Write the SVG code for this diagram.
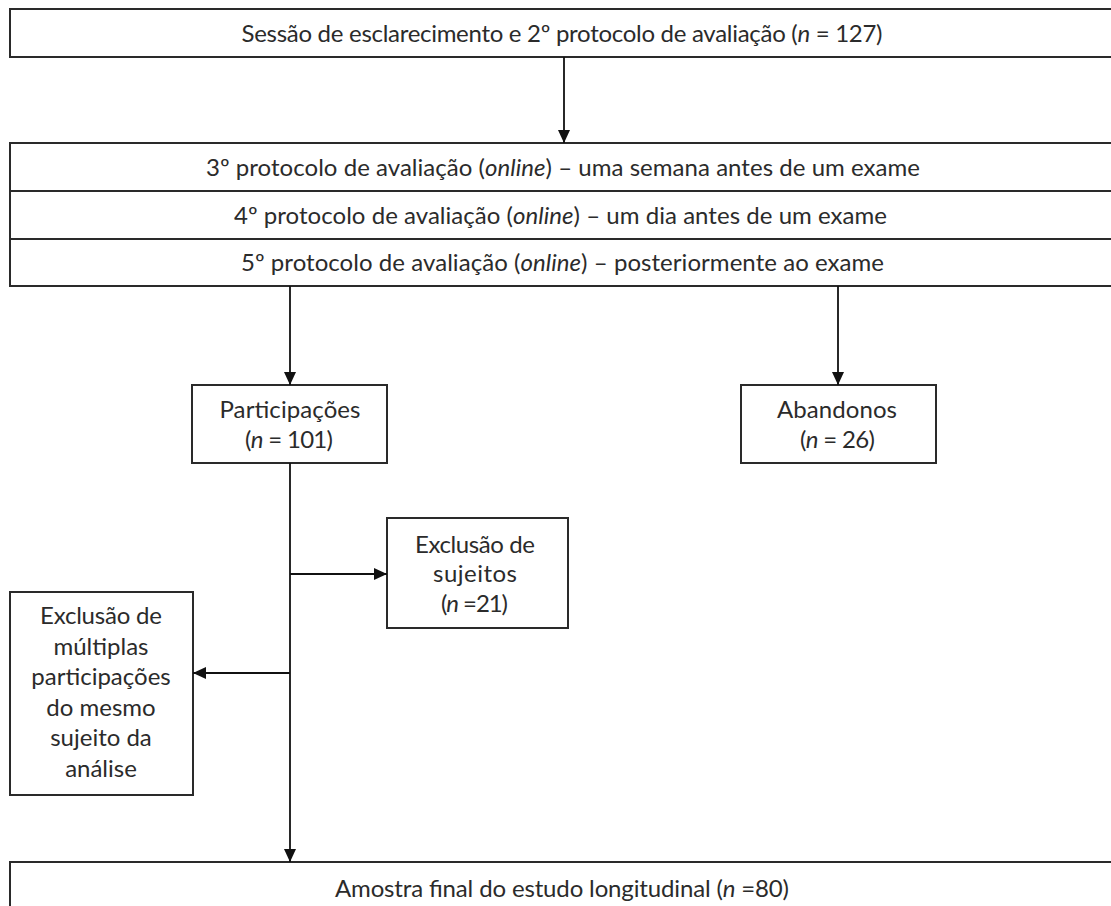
<svg xmlns="http://www.w3.org/2000/svg" width="1111" height="906" viewBox="0 0 1111 906">
  <defs>
    <marker id="arrow" viewBox="0 0 13 12" refX="13" refY="6" markerWidth="13" markerHeight="12" markerUnits="userSpaceOnUse" orient="auto">
      <path d="M0,0 L13,6 L0,12 Z" fill="#111"/>
    </marker>
    <style>
      .box { fill: #fff; stroke: #2a2a2a; stroke-width: 2; }
      .link { fill: none; stroke: #111; stroke-width: 1.8; marker-end: url(#arrow); }
      .line { fill: none; stroke: #2a2a2a; stroke-width: 2; }
      text { font-family: Lato, "Open Sans", "Liberation Sans", sans-serif; font-size: 24px; fill: #2b2b2b; text-anchor: middle; }
      .it { font-style: italic; }
    </style>
  </defs>
  <rect width="1111" height="906" fill="#fff"/>

  <!-- first session -->
  <g id="sessao">
    <rect class="box" x="10" y="9" width="1102" height="48"/>
    <text x="562" y="42" textLength="641">Sessão de esclarecimento e 2º protocolo de avaliação (<tspan class="it">n</tspan> = 127)</text>
  </g>

  <!-- online protocols, three stacked rows -->
  <g id="protocolos">
    <rect class="box" x="10" y="143" width="1102" height="143"/>
    <line class="line" x1="10" y1="191" x2="1112" y2="191"/>
    <line class="line" x1="10" y1="239" x2="1112" y2="239"/>
    <text x="563" y="176" textLength="714">3º protocolo de avaliação (<tspan class="it">online</tspan>) – uma semana antes de um exame</text>
    <text x="560.5" y="224" textLength="653">4º protocolo de avaliação (<tspan class="it">online</tspan>) – um dia antes de um exame</text>
    <text x="562.5" y="271" textLength="643">5º protocolo de avaliação (<tspan class="it">online</tspan>) – posteriormente ao exame</text>
  </g>

  <g id="participacoes">
    <rect class="box" x="192" y="385" width="195" height="78"/>
    <text x="290" y="418" textLength="141">Participações</text>
    <text x="289" y="448" textLength="88">(<tspan class="it">n</tspan> = 101)</text>
  </g>

  <g id="abandonos">
    <rect class="box" x="741" y="385" width="195" height="78"/>
    <text x="837" y="418" textLength="120">Abandonos</text>
    <text x="837.5" y="448" textLength="75">(<tspan class="it">n</tspan> = 26)</text>
  </g>

  <g id="exclusao-sujeitos">
    <rect class="box" x="387" y="518" width="181" height="110"/>
    <text x="475" y="553" textLength="120">Exclusão de</text>
    <text x="475" y="582" textLength="84">sujeitos</text>
    <text x="474.5" y="612" textLength="67">(<tspan class="it">n</tspan> =21)</text>
  </g>

  <g id="exclusao-multiplas">
    <rect class="box" x="10" y="592" width="183" height="203"/>
    <text x="101" y="624" textLength="122">Exclusão de</text>
    <text x="101" y="654.5">múltiplas</text>
    <text x="101" y="685">participações</text>
    <text x="101" y="715.5">do mesmo</text>
    <text x="101" y="746">sujeito da</text>
    <text x="101" y="776.5">análise</text>
  </g>

  <g id="amostra-final">
    <rect class="box" x="10" y="862" width="1102" height="60"/>
    <text x="562" y="897" textLength="454">Amostra final do estudo longitudinal (<tspan class="it">n</tspan> =80)</text>
  </g>

  <!-- connectors -->
  <g id="connectors">
    <line class="link" x1="564" y1="57" x2="564" y2="143"/>
    <line class="link" x1="290" y1="286" x2="290" y2="385"/>
    <line class="link" x1="838" y1="286" x2="838" y2="385"/>
    <line class="link" x1="290" y1="463" x2="290" y2="862"/>
    <line class="link" x1="290" y1="574" x2="387" y2="574"/>
    <line class="link" x1="290" y1="673" x2="193" y2="673"/>
  </g>
</svg>
